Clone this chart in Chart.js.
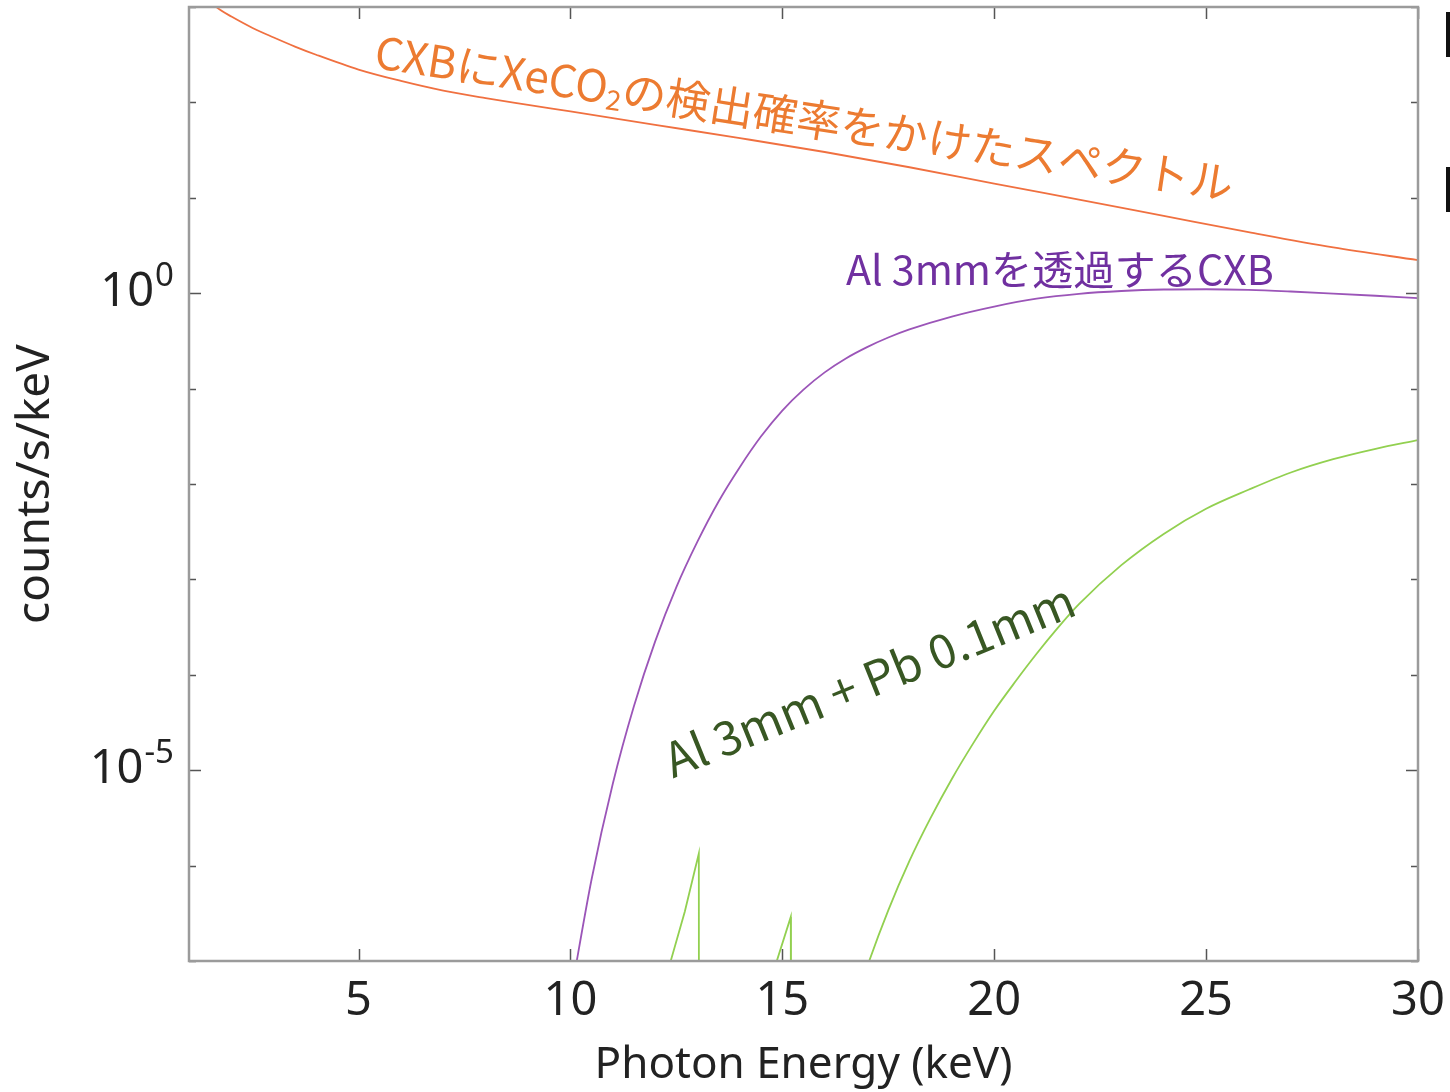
<!DOCTYPE html>
<html>
<head>
<meta charset="utf-8">
<script src="https://cdn.jsdelivr.net/npm/chart.js@4.4.1/dist/chart.umd.min.js"></script>
<style>
html, body { margin: 0; padding: 0; background: #fff; }
#wrap { width: 1450px; height: 1092px; position: relative; }
</style>
</head>
<body>
<div id="wrap"><canvas id="spectrumChart"></canvas></div>
<script>
// CXB x XeCO2 detection probability
const cxbEnergy = [1.5, 1.75, 2.0, 2.5, 3.0, 3.5, 4.0, 5.0, 6.0, 7.0, 8.0, 9.0, 10.0, 12.0, 14.0, 16.0, 18.0, 20.0, 22.0, 24.0, 26.0, 28.0, 30.0];
const cxbCounts = [1122, 923, 794, 603, 479, 385, 316, 221, 168, 133, 111, 94.4, 80.4, 58.2, 42.2, 30.2, 20.9, 14.1, 9.55, 6.46, 4.37, 3.02, 2.22];

// through Al 3mm
const alEnergy = [10.0, 10.5, 11.0, 11.5, 12.0, 12.5, 13.0, 13.5, 14.0, 14.5, 15.0, 15.5, 16.0, 16.5, 17.0, 17.5, 18.0, 19.0, 20.0, 21.0, 22.0, 23.0, 24.0, 25.0, 26.0, 27.0, 28.0, 29.0, 30.0];
const alCounts = [4.2e-8, 7.2e-7, 7.2e-6, 4.7e-5, 2.24e-4, 8.3e-4, 2.5e-3, 6.6e-3, 0.0151, 0.0316, 0.0589, 0.0977, 0.148, 0.207, 0.272, 0.343, 0.417, 0.569, 0.724, 0.875, 0.985, 1.055, 1.093, 1.10, 1.084, 1.042, 0.991, 0.94, 0.887];

// Al 3mm + Pb 0.1mm : L-edge spikes, then main rise
const pbEdgeEnergy = [12.2, 12.7, 13.03, 13.035, 14.8, 14.87, 15.2, 15.205, 16.9];
const pbEdgeCounts = [5.5e-8, 3.3e-7, 1.34e-6, 1e-9, 1e-9, 1e-7, 2.9e-7, 1e-9, 1e-9];
const pbEnergy = [16.9, 17.05, 17.5, 18.0, 18.5, 19.0, 19.5, 20.0, 20.5, 21.0, 21.5, 22.0, 23.0, 24.0, 25.0, 26.0, 27.0, 28.0, 29.0, 30.0];
const pbCounts = [6.3e-8, 1e-7, 3.4e-7, 1.12e-6, 3.16e-6, 8.1e-6, 1.9e-5, 4.2e-5, 8.5e-5, 1.66e-4, 3.1e-4, 5.5e-4, 1.41e-3, 3.0e-3, 5.5e-3, 8.7e-3, 0.0132, 0.0182, 0.0234, 0.0288];

// axes
const xTickValues = [5, 10, 15, 20, 25, 30];
const yDecades = [-7, -6, -5, -4, -3, -2, -1, 0, 1, 2, 3];
const yLabelExps = [0, -5];

const fam = "'Noto Sans', sans-serif";
const jpFam = "'Noto Sans CJK JP', 'Noto Sans', sans-serif";

const pts = (xs, ys) => xs.map((e, i) => ({ x: e, y: ys[i] }));

const notes = [
    { parts: [["CXBにXeCO", false], ["2", true], ["の検出確率をかけたスペクトル", false]], at: [5.34, 231], angle: 8.8, length: 868, color: "#EC7B31" },
    { parts: [["Al 3mmを透過するCXB", false]], at: [16.5, 1.21], angle: 0, length: 428, color: "#7030A0" },
    { parts: [["Al 3mm + Pb 0.1mm", false]], at: [12.42, 8.2e-6], angle: -22, length: 438, color: "#385723" },
];

function drawNote(ctx, n, px, py) {
    const base = 40;
    let w = 0;
    n.parts.forEach(([s, sub]) => {
        ctx.font = (sub ? base * 0.62 : base) + "px " + jpFam;
        w += ctx.measureText(s).width;
    });
    const size = base * n.length / w;
    ctx.save();
    ctx.translate(px, py);
    ctx.rotate(n.angle * Math.PI / 180);
    ctx.fillStyle = n.color;
    ctx.textAlign = "left";
    ctx.textBaseline = "alphabetic";
    let cx = 0;
    n.parts.forEach(([s, sub]) => {
        ctx.font = (sub ? size * 0.62 : size) + "px " + jpFam;
        ctx.fillText(s, cx, sub ? size * 0.12 : 0);
        cx += ctx.measureText(s).width;
    });
    ctx.restore();
}

const framePlugin = {
    id: "frame",
    afterDatasetsDraw(chart) {
        const { ctx, chartArea: a, scales: { x, y } } = chart;
        ctx.save();

        // inward ticks
        ctx.strokeStyle = "#555";
        ctx.lineWidth = 1.5;
        ctx.beginPath();
        xTickValues.forEach(v => {
            const px = Math.round(x.getPixelForValue(v)) + 0.5;
            ctx.moveTo(px, a.bottom); ctx.lineTo(px, a.bottom - 12);
            ctx.moveTo(px, a.top); ctx.lineTo(px, a.top + 12);
        });
        yDecades.forEach(e => {
            const py = Math.round(y.getPixelForValue(Math.pow(10, e))) + 0.5;
            const len = yLabelExps.includes(e) ? 12 : 7;
            ctx.moveTo(a.left, py); ctx.lineTo(a.left + len, py);
            ctx.moveTo(a.right, py); ctx.lineTo(a.right - len, py);
        });
        ctx.stroke();

        // frame
        ctx.strokeStyle = "#9b9b9b";
        ctx.lineWidth = 2.5;
        ctx.strokeRect(a.left, a.top, a.right - a.left, a.bottom - a.top);

        // y labels 10^n
        ctx.fillStyle = "#222";
        ctx.textAlign = "right";
        ctx.textBaseline = "alphabetic";
        yLabelExps.forEach(e => {
            const py = y.getPixelForValue(Math.pow(10, e));
            const right = a.left - 15;
            ctx.font = "33px " + fam;
            const sup = String(e);
            const sw = ctx.measureText(sup).width;
            ctx.fillText(sup, right, py - 7);
            ctx.font = "47px " + fam;
            ctx.fillText("10", right - sw - 1, py + 13);
        });

        // annotations
        notes.forEach(n => drawNote(ctx, n, x.getPixelForValue(n.at[0]), y.getPixelForValue(n.at[1])));

        // clipped fragments at right edge
        ctx.fillStyle = "#111";
        ctx.fillRect(1446, 12, 4, 45);
        ctx.fillRect(1446, 167, 4, 45);

        ctx.restore();
    }
};

const ctx = document.getElementById("spectrumChart").getContext("2d");

let chart = new Chart(ctx, {
    type: "line",
    data: {
        datasets: [
            {
                label: "CXB x XeCO2",
                data: pts(cxbEnergy, cxbCounts),
                borderColor: "#F07040",
                borderWidth: 1.8,
                cubicInterpolationMode: "monotone",
            },
            {
                label: "Al 3mm",
                data: pts(alEnergy, alCounts),
                borderColor: "#9B55B8",
                borderWidth: 1.8,
                cubicInterpolationMode: "monotone",
            },
            {
                label: "Al 3mm + Pb 0.1mm edges",
                data: pts(pbEdgeEnergy, pbEdgeCounts),
                borderColor: "#92D050",
                borderWidth: 1.8,
                tension: 0,
            },
            {
                label: "Al 3mm + Pb 0.1mm",
                data: pts(pbEnergy, pbCounts),
                borderColor: "#92D050",
                borderWidth: 1.8,
                cubicInterpolationMode: "monotone",
            },
        ],
    },
    options: {
        responsive: true,
        maintainAspectRatio: false,
        animation: false,
        parsing: false,
        layout: { padding: { top: 7, right: 32, left: 0, bottom: 0 } },
        elements: { point: { radius: 0 } },
        plugins: { legend: { display: false }, tooltip: { enabled: false } },
        scales: {
            x: {
                type: "linear",
                min: 1,
                max: 30,
                afterBuildTicks: (scale) => { scale.ticks = xTickValues.map(v => ({ value: v })); },
                afterFit: (scale) => {
                    scale.height = 131;
                    scale.paddingLeft = 0;
                    scale.paddingRight = 0;
                },
                grid: { display: false, drawTicks: false },
                border: { display: false },
                ticks: { color: "#222", font: { family: fam, size: 47 }, padding: 12, maxRotation: 0 },
                title: { display: true, text: "Photon Energy (keV)", color: "#222", font: { family: fam, size: 44 }, padding: { top: 0, bottom: 0 } },
            },
            y: {
                type: "logarithmic",
                min: 1e-7,
                max: 1e3,
                afterBuildTicks: (scale) => { scale.ticks = yDecades.map(e => ({ value: Math.pow(10, e) })); },
                afterFit: (scale) => {
                    scale.width = 189;
                    scale.paddingTop = 0;
                    scale.paddingBottom = 0;
                },
                grid: { display: false, drawTicks: false },
                border: { display: false },
                ticks: { display: false },
                title: { display: true, text: "counts/s/keV", color: "#222", font: { family: fam, size: 46 }, padding: { top: 8, bottom: 0 } },
            },
        },
    },
    plugins: [framePlugin],
});
</script>
</body>
</html>
